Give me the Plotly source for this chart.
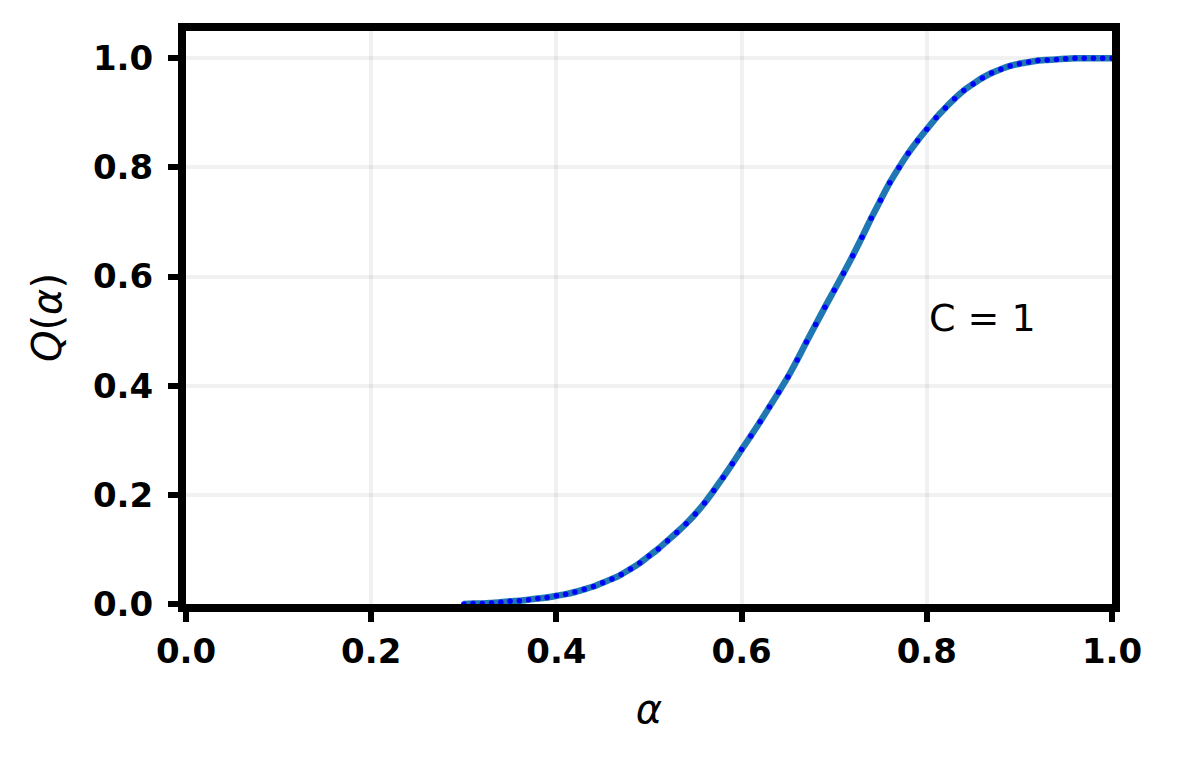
import plotly.graph_objects as go

# alpha grid (step 0.01) and Q(alpha)
alpha = [round(0.30 + 0.01 * i, 2) for i in range(71)]
q_alpha = [
    0.000, 0.001, 0.001, 0.002, 0.003, 0.005, 0.006, 0.008, 0.010, 0.012,
    0.015, 0.018, 0.022, 0.027, 0.032, 0.039, 0.046, 0.054, 0.064, 0.075,
    0.088, 0.101, 0.116, 0.131, 0.147, 0.165, 0.185, 0.208, 0.232, 0.257,
    0.283, 0.308, 0.334, 0.361, 0.388, 0.416, 0.447, 0.480, 0.512, 0.544,
    0.575, 0.606, 0.638, 0.672, 0.707, 0.740, 0.772, 0.800, 0.826, 0.849,
    0.870, 0.891, 0.909, 0.926, 0.941, 0.953, 0.964, 0.973, 0.980, 0.986,
    0.990, 0.993, 0.996, 0.997, 0.998, 0.999, 1.000, 1.000, 1.000, 1.000,
    1.000,
]
label_text = "C = 1"

fig = go.Figure()
fig.add_trace(go.Scatter(x=alpha, y=q_alpha, mode="lines",
                         line=dict(color="#1f77b4", width=6.5, shape="spline", smoothing=0.6),
                         showlegend=False))
fig.add_trace(go.Scatter(x=alpha, y=q_alpha, mode="markers",
                         marker=dict(color="#0000ff", size=5.5),
                         showlegend=False))

axis_common = dict(
    showline=True, linecolor="black", linewidth=8, mirror=True,
    ticks="outside", ticklen=10, tickwidth=6, tickcolor="black",
    showgrid=True, gridcolor="rgba(0,0,0,0.055)", gridwidth=4,
    zeroline=False, tickformat=".1f", dtick=0.2,
    tickfont=dict(family="DejaVu Sans", size=34, color="black", weight="bold"),
)

fig.update_xaxes(range=[0, 1], tick0=0,
                 title=dict(text="<i>α</i>", font=dict(family="DejaVu Sans", size=40, color="black"),
                            standoff=28),
                 **axis_common)
fig.update_yaxes(range=[0, 1.05], tick0=0, ticklabelstandoff=8,
                 title=dict(text="<i>Q</i>(<i>α</i>)", font=dict(family="DejaVu Sans", size=40, color="black"),
                            standoff=22),
                 **axis_common)

fig.add_annotation(x=0.8, y=0.5245, xref="x", yref="y", text=label_text, showarrow=False,
                   xanchor="left", yanchor="middle",
                   font=dict(family="DejaVu Sans", size=38, color="black"))

fig.update_layout(
    width=1177, height=761,
    margin=dict(l=186, r=65, t=31, b=157, autoexpand=False),
    plot_bgcolor="white", paper_bgcolor="white",
)

# drop the browser's default body margin so the figure sits at the page corner
fig.write_html("out.html", config={"displayModeBar": False},
               post_script="document.body.style.margin='0';")
